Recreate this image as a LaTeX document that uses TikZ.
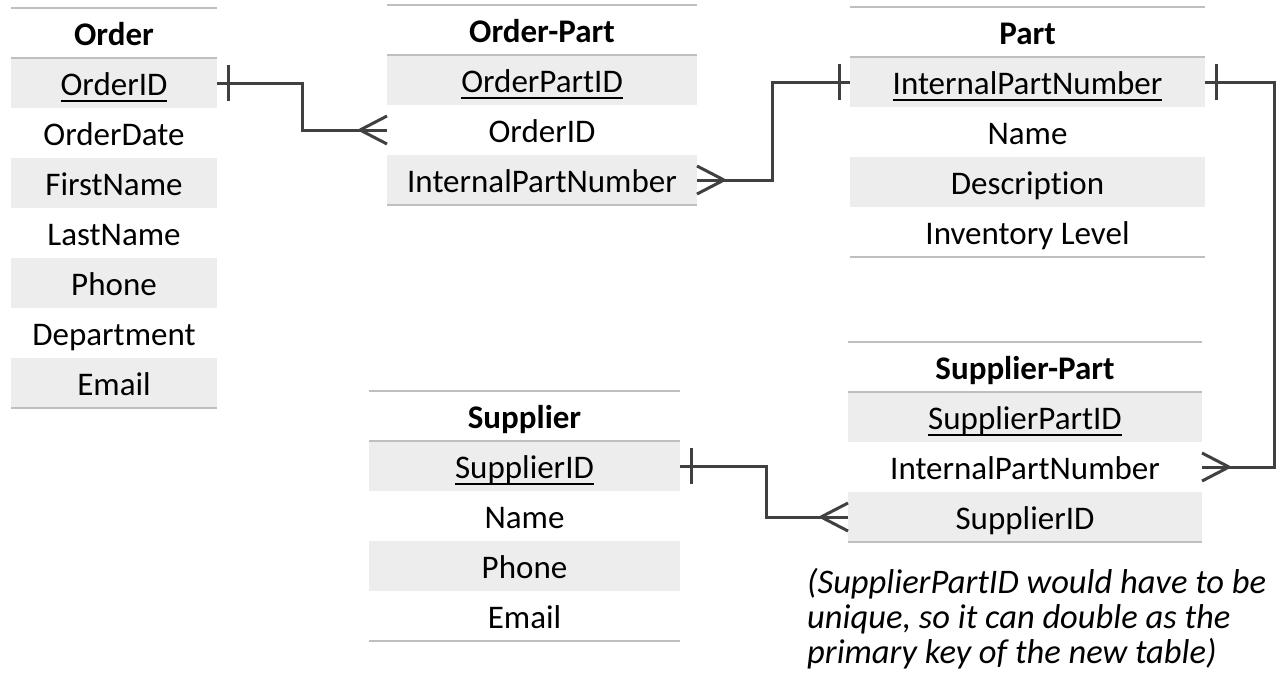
\documentclass[tikz,border=0pt]{standalone}
\usepackage{fontspec}
\setmainfont{Carlito}[Ligatures=NoCommon]
\usetikzlibrary{positioning}
\definecolor{rowgray}{HTML}{EDEDED}
\definecolor{rulegray}{HTML}{BFBFBF}
\definecolor{linkgray}{HTML}{404040}
\newcommand{\pkey}[1]{\setbox0\hbox{#1}\rlap{\rule[-6pt]{\wd0}{1.8pt}}\box0}
\tikzset{
  cell/.style={minimum height=50pt, inner sep=0pt, outer sep=0pt, text height=31pt, text depth=6pt, font=\fontsize{33}{36}\selectfont},
  headrow/.style={cell, font=\fontsize{33}{36}\selectfont\bfseries},
  grayrow/.style={cell, fill=rowgray},
  tblrule/.style={draw=rulegray, line width=2pt},
  link/.style={draw=linkgray, line width=3pt},
  crow/.pic={\draw[link] (-27pt,0) -- (0,14pt) (-27pt,0) -- (0,-14pt);},
  bar/.pic={\draw[link] (11pt,-18pt) -- (11pt,18pt);}
}
\begin{document}
\begin{tikzpicture}[x=1pt,y=-1pt]
\useasboundingbox (0,0) rectangle (1282,678);
% Order
\begin{scope}[nodes={minimum width=206pt}]
\node[headrow] (order) at (114,33) {Order};
\node[grayrow, below=0pt of order] (order-id) {\pkey{OrderID}};
\node[cell, below=0pt of order-id] (order-date) {OrderDate};
\node[grayrow, below=0pt of order-date] (order-first) {FirstName};
\node[cell, below=0pt of order-first] (order-last) {LastName};
\node[grayrow, below=0pt of order-last] (order-phone) {Phone};
\node[cell, below=0pt of order-phone] (order-dept) {Department};
\node[grayrow, below=0pt of order-dept] (order-email) {Email};
\end{scope}
\draw[tblrule] (order.north west) -- (order.north east);
\draw[tblrule] (order.south west) -- (order.south east);
\draw[tblrule] (order-email.south west) -- (order-email.south east);
% Order-Part
\begin{scope}[nodes={minimum width=310pt}]
\node[headrow] (op) at (542,30) {Order-Part};
\node[grayrow, below=0pt of op] (op-id) {\pkey{OrderPartID}};
\node[cell, below=0pt of op-id] (op-order) {OrderID};
\node[grayrow, below=0pt of op-order] (op-part) {InternalPartNumber};
\end{scope}
\draw[tblrule] (op.north west) -- (op.north east);
\draw[tblrule] (op.south west) -- (op.south east);
\draw[tblrule] (op-part.south west) -- (op-part.south east);
% Part
\begin{scope}[nodes={minimum width=355pt}]
\node[headrow] (part) at (1027.5,32) {Part};
\node[grayrow, below=0pt of part] (part-id) {\pkey{InternalPartNumber}};
\node[cell, below=0pt of part-id] (part-name) {Name};
\node[grayrow, below=0pt of part-name] (part-desc) {Description};
\node[cell, below=0pt of part-desc] (part-level) {Inventory Level};
\end{scope}
\draw[tblrule] (part.north west) -- (part.north east);
\draw[tblrule] (part.south west) -- (part.south east);
\draw[tblrule] (part-level.south west) -- (part-level.south east);
% Supplier
\begin{scope}[nodes={minimum width=311pt}]
\node[headrow] (sup) at (524.5,416) {Supplier};
\node[grayrow, below=0pt of sup] (sup-id) {\pkey{SupplierID}};
\node[cell, below=0pt of sup-id] (sup-name) {Name};
\node[grayrow, below=0pt of sup-name] (sup-phone) {Phone};
\node[cell, below=0pt of sup-phone] (sup-email) {Email};
\end{scope}
\draw[tblrule] (sup.north west) -- (sup.north east);
\draw[tblrule] (sup.south west) -- (sup.south east);
\draw[tblrule] (sup-email.south west) -- (sup-email.south east);
% Supplier-Part
\begin{scope}[nodes={minimum width=354pt}]
\node[headrow] (sp) at (1025,367) {Supplier-Part};
\node[grayrow, below=0pt of sp] (sp-id) {\pkey{SupplierPartID}};
\node[cell, below=0pt of sp-id] (sp-part) {InternalPartNumber};
\node[grayrow, below=0pt of sp-part] (sp-sup) {SupplierID};
\end{scope}
\draw[tblrule] (sp.north west) -- (sp.north east);
\draw[tblrule] (sp.south west) -- (sp.south east);
\draw[tblrule] (sp-sup.south west) -- (sp-sup.south east);
\node[anchor=north west, align=left, inner sep=0pt, font=\fontsize{34.5}{35}\selectfont\itshape] (note) at (807,568) {(SupplierPartID would have to be\\unique, so it can double as the\\primary key of the new table)};
% links
\draw[link] (order-id.east) -- ++(85,0) |- (op-order.west);
\pic at (order-id.east) {bar};
\pic at (op-order.west) {crow};
\draw[link] (op-part.east) -- ++(75,0) |- (part-id.west);
\pic[xscale=-1] at (op-part.east) {crow};
\pic[xscale=-1] at (part-id.west) {bar};
\draw[link] (part-id.east) -- ++(69,0) |- (sp-part.east);
\pic at (part-id.east) {bar};
\pic[xscale=-1] at (sp-part.east) {crow};
\draw[link] (sup-id.east) -- ++(86,0) |- (sp-sup.west);
\pic at (sup-id.east) {bar};
\pic at (sp-sup.west) {crow};
\end{tikzpicture}
\end{document}
